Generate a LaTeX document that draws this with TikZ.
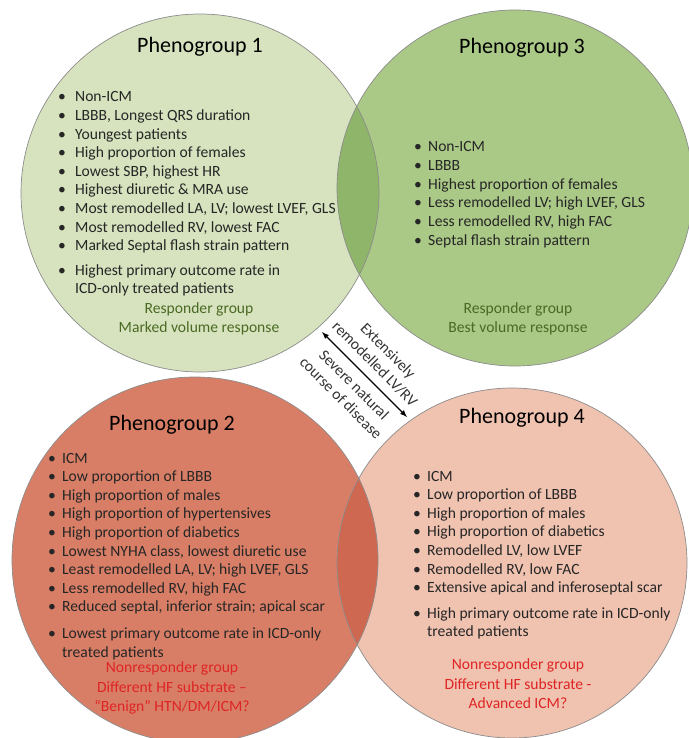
\documentclass[tikz,border=0pt]{standalone}
\usepackage{fontspec}
\setmainfont{Carlito}
\usepackage{xcolor}

\definecolor{paleGreen}{RGB}{214,227,190}
\definecolor{midGreen}{RGB}{170,200,134}
\definecolor{lensGreen}{RGB}{143,181,107}
\definecolor{deepRed}{RGB}{217,126,102}
\definecolor{paleRed}{RGB}{240,194,176}
\definecolor{lensRed}{RGB}{206,104,80}
\definecolor{respGreen}{RGB}{74,106,36}
\definecolor{nonRed}{RGB}{222,36,36}

\newcommand{\bodyfont}{\fontsize{15.6}{18.6}\selectfont}
\newcommand{\sumfont}{\fontsize{15.6}{19.5}\selectfont}
\newcommand{\headfont}{\fontsize{22}{26}\selectfont}

\tikzset{
  rim/.style={draw=black!45, line width=0.7pt},
  grouptitle/.style={font=\headfont, inner sep=0pt},
  bullets/.style={font=\bodyfont, anchor=base west, inner sep=0pt, text=black!85},
  summary/.style={font=\sumfont, align=center, inner sep=0pt},
  arrowlabel/.style={font=\bodyfont, align=center, text=black!80}
}

\begin{document}
\begin{tikzpicture}[x=1pt,y=-1pt]
  \useasboundingbox (0,0) rectangle (688,738);

  % Top circles
  \fill[paleGreen] (200,193) circle (179pt);
  \fill[midGreen] (515,188) circle (178pt);
  \begin{scope}
    \clip (200,193) circle (179pt);
    \fill[lensGreen] (515,188) circle (178pt);
  \end{scope}
  \draw[rim] (200,193) circle (179pt);
  \draw[rim] (515,188) circle (178pt);

  % Bottom circles
  \fill[deepRed] (195,560) circle (183pt);
  \fill[paleRed] (512,563) circle (175pt);
  \begin{scope}
    \clip (195,560) circle (183pt);
    \fill[lensRed] (512,563) circle (175pt);
  \end{scope}
  \draw[rim] (195,560) circle (183pt);
  \draw[rim] (512,563) circle (175pt);

  % Titles
  \node[grouptitle] (head1) at (200,47) {Phenogroup 1};
  \node[grouptitle] (head3) at (522,48) {Phenogroup 3};
  \node[grouptitle] (head2) at (172,425) {Phenogroup 2};
  \node[grouptitle] (head4) at (522,418) {Phenogroup 4};

  % Phenogroup 1
  \node[bullets] (list1) at (58,102) {\begin{tabular}[t]{@{}p{17pt}@{}l@{}}
    \textbullet & Non-ICM\\
    \textbullet & LBBB, Longest QRS duration\\
    \textbullet & Youngest patients\\
    \textbullet & High proportion of females\\
    \textbullet & Lowest SBP, highest HR\\
    \textbullet & Highest diuretic \& MRA use\\
    \textbullet & Most remodelled LA, LV; lowest LVEF, GLS\\
    \textbullet & Most remodelled RV, lowest FAC\\
    \textbullet & Marked Septal flash strain pattern\\[6pt]
    \textbullet & Highest primary outcome rate in\\
                & ICD-only treated patients
  \end{tabular}};
  \node[summary, text=respGreen] (sum1) at (199,319) {Responder group\\Marked volume response};

  % Phenogroup 3
  \node[bullets] (list3) at (414,152) {\begin{tabular}[t]{@{}p{14pt}@{}l@{}}
    \textbullet & Non-ICM\\
    \textbullet & LBBB\\
    \textbullet & Highest proportion of females\\
    \textbullet & Less remodelled LV; high LVEF, GLS\\
    \textbullet & Less remodelled RV, high FAC\\
    \textbullet & Septal flash strain pattern
  \end{tabular}};
  \node[summary, text=respGreen] (sum3) at (518,319) {Responder group\\Best volume response};

  % Phenogroup 2
  \node[bullets] (list2) at (48,463) {\begin{tabular}[t]{@{}p{14pt}@{}l@{}}
    \textbullet & ICM\\
    \textbullet & Low proportion of LBBB\\
    \textbullet & High proportion of males\\
    \textbullet & High proportion of hypertensives\\
    \textbullet & High proportion of diabetics\\
    \textbullet & Lowest NYHA class, lowest diuretic use\\
    \textbullet & Least remodelled LA, LV; high LVEF, GLS\\
    \textbullet & Less remodelled RV, high FAC\\
    \textbullet & Reduced septal, inferior strain; apical scar\\[8pt]
    \textbullet & Lowest primary outcome rate in ICD-only\\
                & treated patients
  \end{tabular}};
  \node[summary, text=nonRed] (sum2) at (172,688) {Nonresponder group\\Different HF substrate --\\``Benign'' HTN/DM/ICM?};

  % Phenogroup 4
  \node[bullets] (list4) at (413,481) {\begin{tabular}[t]{@{}p{14pt}@{}l@{}}
    \textbullet & ICM\\
    \textbullet & Low proportion of LBBB\\
    \textbullet & High proportion of males\\
    \textbullet & High proportion of diabetics\\
    \textbullet & Remodelled LV, low LVEF\\
    \textbullet & Remodelled RV, low FAC\\
    \textbullet & Extensive apical and inferoseptal scar\\[7pt]
    \textbullet & High primary outcome rate in ICD-only\\
                & treated patients
  \end{tabular}};
  \node[summary, text=nonRed] (sum4) at (518,684) {Nonresponder group\\Different HF substrate -\\Advanced ICM?};

  % Arrow between phenogroups 1 and 4
  \coordinate (upend) at (322,332);
  \coordinate (lowend) at (407,417);
  \draw[latex-latex, line width=1.4pt] (upend) -- (lowend)
    node[arrowlabel, midway, above=5pt, sloped] (lblup) {Extensively\\remodelled LV/RV}
    node[arrowlabel, midway, below=5pt, sloped] (lbllow) {Severe natural\\course of disease};
\end{tikzpicture}
\end{document}
